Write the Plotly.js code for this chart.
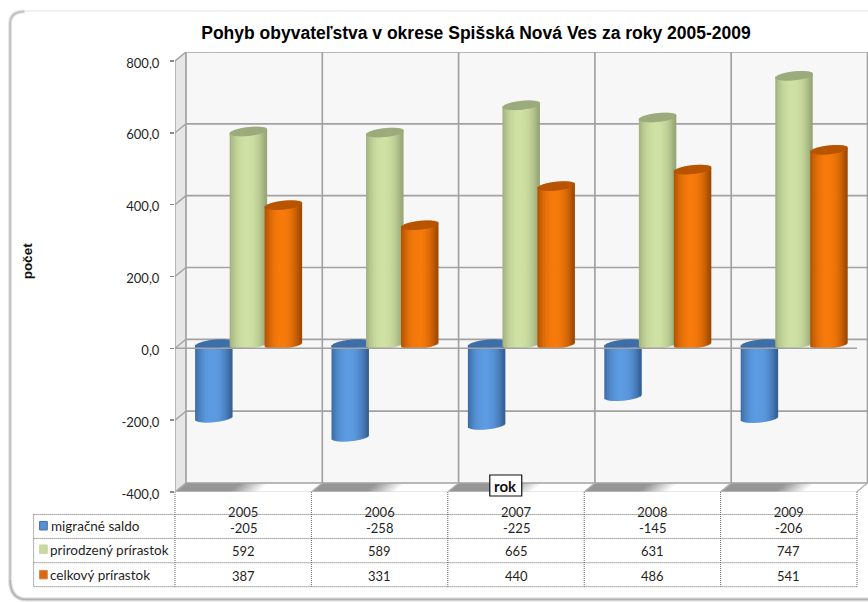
<!DOCTYPE html>
<html><head><meta charset="utf-8">
<script src="https://cdn.plot.ly/plotly-3.0.1.min.js"></script>
<style>html,body{margin:0;padding:0;background:#fff}#c{width:868px;height:602px}</style>
</head><body><div id="c"></div>
<script>
const years = ['2005','2006','2007','2008','2009'];
const migracne = [-205,-258,-225,-145,-206];
const prirodzeny = [592,589,665,631,747];
const celkovy = [387,331,440,486,541];
const seriesNames = ['migračné saldo','prirodzený prírastok','celkový prírastok'];
const yTicks = [-400,-200,0,200,400,600,800];
const yTickText = ['-400,0','-200,0','0,0','200,0','400,0','600,0','800,0'];

// frame geometry (pixels of the 868x602 picture)
const L=174.5,BOT=492.5,TOPW=52,W=868,H=602,UX=136.5,UY=0.3596,DX=11,DY=9,CX0=242.75;
const X=p=>(p-CX0)/UX, Y=p=>(BOT-p)/UY-400, PYV=v=>BOT-(v+400)*UY;
const PX=p=>(p-L)/(W-L), PY=p=>(BOT-p)/(BOT-TOPW);
const xs=years.map((_,i)=>i);

function mix(a,b,f){return 'rgb('+a.map((v,i)=>Math.round(v+(b[i]-v)*f)).join(',')+')';}
const styles=[
 {vals:migracne,off:-29.4,edge:[52,96,150],mid:[92,155,226],cap:[62,110,168]},
 {vals:prirodzeny,off:5.2,edge:[150,166,118],mid:[208,225,164],cap:[155,171,124]},
 {vals:celkovy,off:40.2,edge:[160,72,0],mid:[246,122,10],cap:[184,84,0]}
];
const N=26,BW=37.5,RY=4.4,TILT=1.9,SHIFT=4.2/UY,OVER=0.7;
const traces=[];
styles.forEach((s,si)=>{
  for(let k=0;k<N;k++){
    const t=-1+(k+0.5)*2/N, sw=BW/N;
    const arc=RY*Math.sqrt(1-t*t)/UY, tl=TILT*t/UY;
    const shade=Math.pow(Math.abs(t+0.08),2.2);
    const body=mix(s.mid,s.edge,Math.min(1,shade));
    const lower=s.vals.map(v=>Math.min(v,0)+SHIFT+tl-arc);
    const upper=s.vals.map(v=>Math.max(v,0)+SHIFT+tl);
    const wd=(k<N-1?sw+OVER:sw)/UX;
    const common={type:'bar',x:xs,width:wd,offset:(s.off-BW/2+k*sw)/UX,hoverinfo:'skip',showlegend:false};
    traces.push(Object.assign({},common,{base:lower,y:upper.map((u,i)=>u-lower[i]),marker:{color:body,line:{width:0}},name:seriesNames[si]}));
  }
  for(let k=0;k<N;k++){
    const t=-1+(k+0.5)*2/N, sw=BW/N;
    const arc=RY*Math.sqrt(1-t*t)/UY, tl=TILT*t/UY;
    const upper=s.vals.map(v=>Math.max(v,0)+SHIFT+tl);
    const capBase=upper.map(u=>u-arc);
    const wd=(k<N-1?sw+OVER:sw)/UX;
    traces.push({type:'bar',x:xs,width:wd,offset:(s.off-BW/2+k*sw)/UX,hoverinfo:'skip',showlegend:false,
      base:capBase,y:capBase.map(()=>2*arc),marker:{color:mix(s.cap,s.edge,Math.abs(t)>0.9?0.4:0),line:{width:0}},name:seriesNames[si]+' (vrch)'});
  }
});

const shapes=[];
const poly=(pts,fill,layer)=>shapes.push({type:'path',xref:'x',yref:'y',layer:layer||'below',
  path:'M'+pts.map(p=>X(p[0])+','+Y(p[1])).join('L')+'Z',fillcolor:fill,line:{width:0}});
const seg=(x0,y0,x1,y1,c,w,layer)=>shapes.push({type:'line',xref:'x',yref:'y',layer:layer||'below',
  x0:X(x0),y0:Y(y0),x1:X(x1),y1:Y(y1),line:{color:c,width:w}});
const backL=L+DX,backB=BOT-DY;
poly([[backL,TOPW],[W,TOPW],[W,backB],[backL,backB]],'#f7f7f7');
poly([[L,TOPW+DY],[backL,TOPW],[backL,backB],[L,BOT]],'#e6e6e6');
// floor with a fade inside every category
for(let i=0;i<5;i++){
  const x0=L+i*136.5, n=14, w=136.5;
  for(let j=0;j<n;j++){
    const a=0.40+j*0.22/n, b=0.40+(j+1)*0.22/n;
    poly([[x0+a*w,BOT],[x0+b*w+.5,BOT],[x0+b*w+DX+.5,backB],[x0+a*w+DX,backB]],mix([150,150,150],[255,255,255],j/(n-1)));
  }
  poly([[x0,BOT],[x0+.40*w+.5,BOT],[x0+.40*w+DX+.5,backB],[x0+DX,backB]],'#969696');
}
const GR='#a2a2a2';
yTicks.forEach(v=>{const p=PYV(v);
  seg(backL,p-DY,W,p-DY,GR,1.7);
  seg(L,p,backL,p-DY,GR,1.4);
});
for(let i=0;i<=5;i++){const px=backL+i*136.4;
  seg(px,TOPW,px,backB,GR,1.7);
  seg(px,backB,px-DX,BOT,'#b0b0b0',1.2);
}
seg(L,TOPW+DY,L,BOT,GR,1.4);
seg(L,BOT,857,BOT,'#d0d0d0',1);
seg(L,PYV(0),857,PYV(0),GR,1.4,'above');

// data table (dotted)
const paperLine=(x0,y0,x1,y1,c,w,d)=>shapes.push({type:'line',xref:'paper',yref:'paper',layer:'above',
  x0:PX(x0),y0:PY(y0),x1:PX(x1),y1:PY(y1),line:{color:c,width:w,dash:d||'solid'}});
const DOT='1px,1px';
[515,539,563.3,587.3].forEach(p=>paperLine(33,p,857,p,'#666',1,DOT));
paperLine(33,515,33,587.3,'#666',1,DOT);
[174.5,311,447.5,584,720.5,857].forEach(p=>paperLine(p,BOT,p,587.3,'#666',1,DOT));
// legend keys
const keyCols=[['#5b8fd6','#3f6ea8',522,530.5],['#c7d9a4','#c7d9a4',545.5,554],['#e0660c','#c88a50',571,579.5]];
keyCols.forEach(k=>shapes.push({type:'rect',xref:'paper',yref:'paper',layer:'above',
  x0:PX(39),x1:PX(46.7),y0:PY(k[2]),y1:PY(k[3]),fillcolor:k[0],line:{color:k[1],width:1}}));
// axis-title box
shapes.push({type:'rect',xref:'paper',yref:'paper',layer:'above',x0:PX(489.5),x1:PX(521.5),y0:PY(475.5),y1:PY(496.5),
  fillcolor:'#fff',line:{color:'#111',width:1.2}});
// outer rounded frame
const fp=(x,y)=>PX(x)+','+PY(y);
const frame1='M'+fp(9.5,580)+' L'+fp(9.5,24)+' Q'+fp(9.5,11.5)+' '+fp(24,11.5);
const frame2='M'+fp(9.5,580)+' Q'+fp(9.5,600)+' '+fp(26,600)+' L'+fp(868,600);
[[frame1,'#e4e4e4',4],[frame2,'#dcdcdc',4],[frame1,'#bdbdbd',1.6],[frame2,'#b2b2b2',1.6]].forEach(a=>
  shapes.push({type:'path',xref:'paper',yref:'paper',layer:'below',path:a[0],line:{color:a[1],width:a[2]}}));
shapes.push({type:'line',xref:'paper',yref:'paper',layer:'below',x0:PX(24),y0:PY(11),x1:PX(868),y1:PY(11),line:{color:'#ededed',width:1.5}});

const DF='Lato, "Noto Sans", sans-serif';
const ann=[];
const note=(x,y,text,extra)=>ann.push(Object.assign({xref:'paper',yref:'paper',x:PX(x),y:PY(y),text,showarrow:false,
  xanchor:'center',yanchor:'middle',font:{family:DF,size:13.5,color:'#1f1f1f'}},extra||{}));
[migracne,prirodzeny,celkovy].forEach((arr,r)=>{
  const ry=[528.5,552,577][r];
  arr.forEach((v,i)=>note(CX0+i*136.5,ry,String(v),{font:{family:DF,size:13,color:'#1f1f1f'}}));
  note(r==0?48:47,[527,551,575.5][r],seriesNames[r],{xanchor:'left'});
});
note(505.5,486,'rok',{font:{family:DF,size:15,color:'#111',weight:'bold'}});
note(27,261,'počet',{textangle:-90,font:{family:'"Liberation Sans", Arial, sans-serif',size:13.5,color:'#111',weight:'bold'}});

Plotly.newPlot('c',traces,{
  width:W,height:H,autosize:false,
  margin:{l:L,r:0,t:TOPW,b:H-BOT,pad:0},
  paper_bgcolor:'#fff',plot_bgcolor:'rgba(0,0,0,0)',
  barmode:'overlay',showlegend:false,separators:', ',
  title:{text:'Pohyb obyvateľstva v okrese Spišská Nová Ves za roky 2005-2009',xref:'container',yref:'container',
    x:476/W,xanchor:'center',y:1-32.5/H,yanchor:'middle',
    font:{family:'"Liberation Sans", Arial, sans-serif',size:17.5,color:'#000',weight:'bold'}},
  xaxis:{type:'linear',range:[X(L),X(W)],tickmode:'array',tickvals:xs,ticktext:years,ticks:'',ticklabelstandoff:11,
    showgrid:false,zeroline:false,showline:false,tickfont:{family:DF,size:13,color:'#1f1f1f'}},
  yaxis:{type:'linear',range:[-400,Y(TOPW)],tickmode:'array',tickvals:yTicks,ticktext:yTickText,ticks:'outside',ticklen:4,
    tickcolor:'#8a8a8a',tickwidth:1.4,ticklabelstandoff:8,ticklabelshift:2,showgrid:false,zeroline:false,showline:false,
    tickfont:{family:DF,size:13,color:'#1f1f1f'}},
  shapes,annotations:ann
},{displayModeBar:false,staticPlot:true});
</script></body></html>
